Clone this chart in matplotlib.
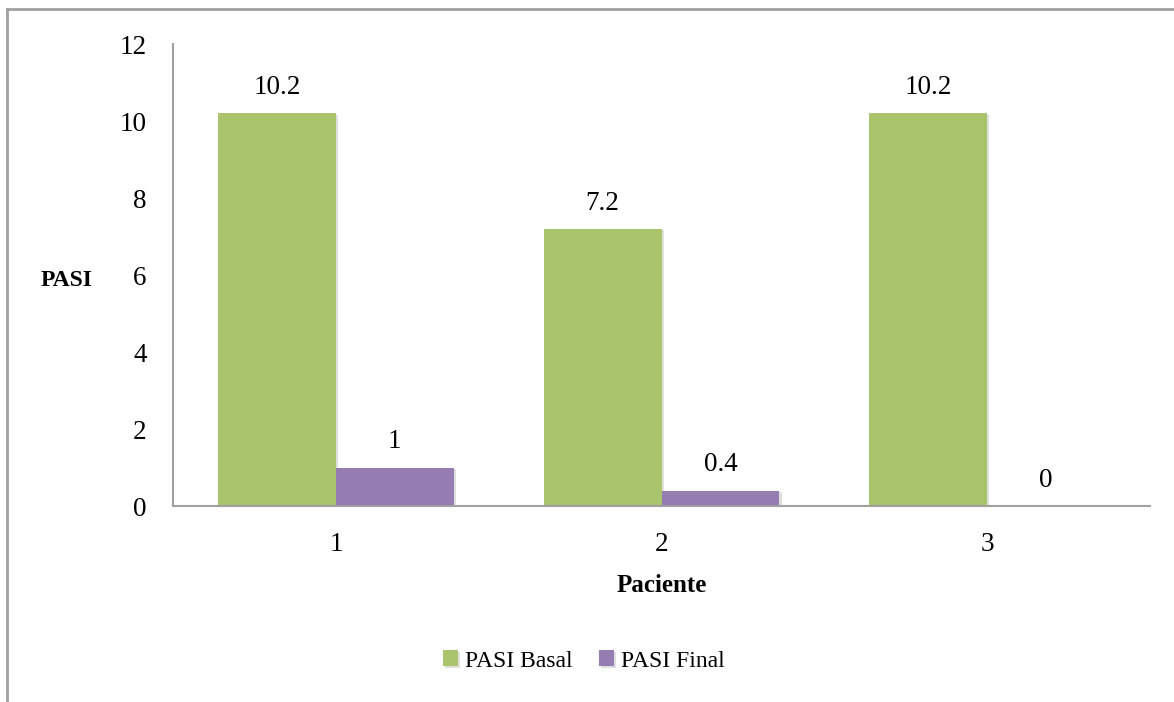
import matplotlib.pyplot as plt
import matplotlib.patheffects as pe
from matplotlib.lines import Line2D
import numpy as np

# PASI per patient, before and after treatment
pacientes = ['1', '2', '3']
pasi_basal = [10.2, 7.2, 10.2]
pasi_final = [1, 0.4, 0]
series_names = ['PASI Basal', 'PASI Final']

green = '#AAC46D'
purple = '#957CB1'
gray = '#A0A0A0'

plt.rcParams['font.family'] = ['Liberation Serif', 'DejaVu Serif']

fig = plt.figure(figsize=(11.74, 7.02), dpi=100)
ax = fig.add_axes([0.1474, 0.2792, 0.8322, 0.6581])

x = np.arange(1, len(pacientes) + 1)
w = 0.362
shadow = [pe.SimplePatchShadow(offset=(1.5, -1), shadow_rgbFace='#808080',
                               alpha=0.25), pe.Normal()]
b1 = ax.bar(x - w / 2, pasi_basal, w, color=green, label=series_names[0])
b2 = ax.bar(x + w / 2, pasi_final, w, color=purple, label=series_names[1])
for rect in list(b1) + list(b2):
    rect.set_path_effects(shadow)

# value labels above each bar
for bars, vals in ((b1, pasi_basal), (b2, pasi_final)):
    for rect, v in zip(bars, vals):
        ax.annotate('%g' % v, (rect.get_x() + rect.get_width() / 2, v),
                    xytext=(0, 9.5), textcoords='offset points',
                    ha='center', va='bottom', fontsize=19.5)

ax.set_xlim(0.5, 3.5)
ax.set_ylim(0, 12)
ax.set_yticks(range(0, 13, 2))
ax.set_xticks(x)
ax.set_xticklabels(pacientes)
ax.tick_params(length=0, labelsize=19.5, pad=19)

for side in ('top', 'right'):
    ax.spines[side].set_visible(False)
for side in ('left', 'bottom'):
    ax.spines[side].set_color(gray)
    ax.spines[side].set_linewidth(1.5)

ax.set_xlabel('Paciente', fontsize=18, fontweight='bold', va='center')
ax.xaxis.set_label_coords(0.5, -0.171)
ax.set_ylabel('PASI', fontsize=17, fontweight='bold', rotation=0,
              ha='right', va='center')
ax.yaxis.set_label_coords(-0.082, 0.489)

fig.legend(loc='center', bbox_to_anchor=(584 / 1174, 1 - 661 / 702),
           ncol=2, frameon=False, fontsize=17, handlelength=0.65,
           handleheight=0.65, handletextpad=0.3, columnspacing=1.1)

# outer chart border (top and left edges)
fig.add_artist(Line2D([7 / 1174, 1], [1 - 9 / 702, 1 - 9 / 702],
                      color=gray, lw=2, transform=fig.transFigure))
fig.add_artist(Line2D([7 / 1174, 7 / 1174], [0, 1 - 9 / 702],
                      color=gray, lw=2, transform=fig.transFigure))

fig.savefig('out.png', dpi=100)
